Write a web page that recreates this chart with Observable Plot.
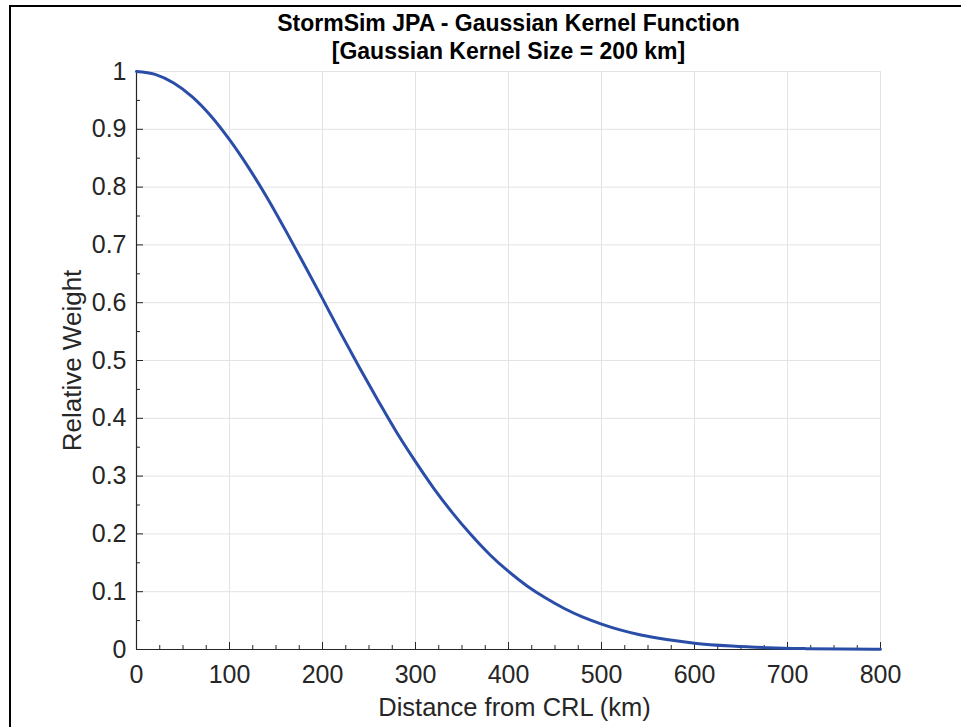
<!DOCTYPE html>
<html>
<head>
<meta charset="utf-8">
<script src="https://cdn.jsdelivr.net/npm/d3@7"></script>
<script src="https://cdn.jsdelivr.net/npm/@observablehq/plot@0.6"></script>
<style>
  html, body { margin: 0; padding: 0; background: #fff; }
  #wrap { position: relative; width: 961px; height: 727px; overflow: hidden; }
  #border { position: absolute; left: 9px; top: 5px; width: 960px; height: 730px;
            border-left: 2px solid #000; border-top: 2px solid #000; pointer-events: none; }
</style>
</head>
<body>
<div id="wrap"><div id="border"></div></div>
<script>
// Distance from CRL (km)
const distances = [0, 20, 40, 60, 80, 100, 120, 140, 160, 180, 200, 220, 240, 260, 280, 300,
  320, 340, 360, 380, 400, 420, 440, 460, 480, 500, 520, 540, 560, 580, 600, 640, 680, 720, 760, 800];
// Relative weight
const weights = [1.000, 0.995, 0.980, 0.956, 0.923, 0.882, 0.835, 0.783, 0.726, 0.667, 0.607, 0.546,
  0.487, 0.430, 0.375, 0.325, 0.278, 0.236, 0.198, 0.164, 0.135, 0.110, 0.089, 0.071, 0.056, 0.044,
  0.034, 0.026, 0.020, 0.015, 0.011, 0.006, 0.003, 0.0015, 0.0007, 0.0003];

const xMajorTicks = [0, 100, 200, 300, 400, 500, 600, 700, 800];
const xMinorTicks = [25, 50, 75, 125, 150, 175, 225, 250, 275, 325, 350, 375, 425, 450, 475,
  525, 550, 575, 625, 650, 675, 725, 750, 775];
const yMajorTicks = [0, 0.1, 0.2, 0.3, 0.4, 0.5, 0.6, 0.7, 0.8, 0.9, 1];
const yMinorTicks = [0.05, 0.15, 0.25, 0.35, 0.45, 0.55, 0.65, 0.75, 0.85, 0.95];

const titleLine1 = "StormSim JPA - Gaussian Kernel Function";
const titleLine2 = "[Gaussian Kernel Size = 200 km]";
const xLabel = "Distance from CRL (km)";
const yLabel = "Relative Weight";

const data = distances.map((d, i) => ({ d, w: weights[i] }));

const W = 961, H = 727;
const mTop = 71, mBottom = 78, mLeft = 136, mRight = 81;
const plotH = H - mTop - mBottom;
const plotW = W - mLeft - mRight;
const axisColor = "#262626";
const font = "'Liberation Sans', Arial, sans-serif";

const chart = Plot.plot({
  width: W,
  height: H,
  marginTop: mTop,
  marginBottom: mBottom,
  marginLeft: mLeft,
  marginRight: mRight,
  style: { fontFamily: font, background: "#fff", color: axisColor },
  x: { domain: [0, 800] },
  y: { domain: [0, 1] },
  marks: [
    Plot.gridX(xMajorTicks, { stroke: "#e3e3e3", strokeOpacity: 1 }),
    Plot.gridY(yMajorTicks, { stroke: "#e3e3e3", strokeOpacity: 1 }),
    Plot.axisX(xMajorTicks, { tickSize: 0, tickPadding: 16, fontSize: 25, label: null, fill: axisColor }),
    Plot.axisY(yMajorTicks, { tickSize: 0, tickPadding: 10, fontSize: 25, label: null, fill: axisColor,
      tickFormat: d => d3.format("~g")(d) }),
    Plot.tickX(xMajorTicks, { x: d => d, insetTop: plotH - 7, stroke: axisColor, strokeWidth: 1 }),
    Plot.tickX(xMinorTicks, { x: d => d, insetTop: plotH - 4, stroke: axisColor, strokeWidth: 1 }),
    Plot.tickY(yMajorTicks, { y: d => d, insetRight: plotW - 7, stroke: axisColor, strokeWidth: 1 }),
    Plot.tickY(yMinorTicks, { y: d => d, insetRight: plotW - 4, stroke: axisColor, strokeWidth: 1 }),
    Plot.ruleX([0], { stroke: axisColor, strokeWidth: 1.2 }),
    Plot.ruleY([0], { stroke: axisColor, strokeWidth: 1.2 }),
    Plot.line(data, { x: "d", y: "w", stroke: "#2a4ea8", strokeWidth: 3, curve: "monotone-x" }),
    Plot.text([titleLine1], { text: d => d, frameAnchor: "top", dy: -41, lineAnchor: "bottom",
      fontSize: 23, fontWeight: "bold", fill: "#000" }),
    Plot.text([titleLine2], { text: d => d, frameAnchor: "top", dy: -13, lineAnchor: "bottom",
      fontSize: 23, fontWeight: "bold", fill: "#000" }),
    Plot.text([yLabel], { text: d => d, frameAnchor: "left", textAnchor: "middle", dx: -64, rotate: -90,
      fontSize: 26, fill: axisColor }),
    Plot.text([xLabel], { text: d => d, frameAnchor: "bottom", dy: 66, dx: 6, lineAnchor: "bottom",
      fontSize: 25.5, fill: axisColor })
  ]
});

document.getElementById("wrap").insertBefore(chart, document.getElementById("border"));
chart.style.position = "absolute";
chart.style.left = "0px";
chart.style.top = "0px";
</script>
</body>
</html>
